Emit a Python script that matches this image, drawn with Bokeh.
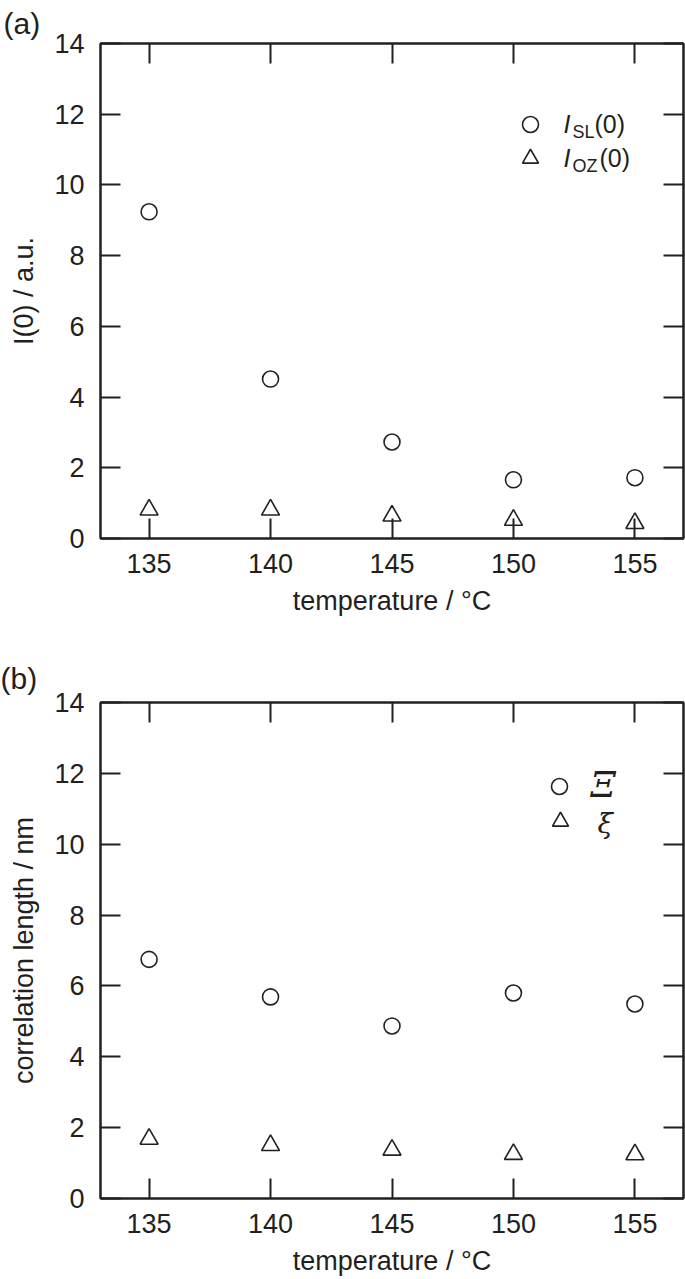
from bokeh.plotting import figure
from bokeh.models import (Range1d, FixedTicker, LinearAxis, Label, Legend,
                          LegendItem, CustomJSTickFormatter, Title)
from bokeh.layouts import column
from bokeh.embed import file_html
from bokeh.resources import INLINE

# ---------------- data ----------------
temperature = [135, 140, 145, 150, 155]
I_SL = [9.24, 4.51, 2.73, 1.66, 1.72]
I_OZ = [0.81, 0.81, 0.64, 0.52, 0.43]
Xi_big = [6.75, 5.69, 4.87, 5.80, 5.49]
xi_small = [1.68, 1.50, 1.37, 1.25, 1.24]

x_ticks = [135, 140, 145, 150, 155]
y_ticks = [0, 2, 4, 6, 8, 10, 12, 14]
x_title = "temperature / °C"
y_title_a = "I(0) / a.u."
y_title_b = "correlation length / nm"

INK = "#231f20"
SANS = "Liberation Sans"
SERIF = "DejaVu Serif"
FS = "27px"


def style_axis(ax, ticks, labels):
    ax.ticker = FixedTicker(ticks=ticks)
    ax.major_tick_in = 20
    ax.major_tick_out = 0
    ax.minor_tick_in = 0
    ax.minor_tick_out = 0
    ax.axis_line_color = INK
    ax.axis_line_width = 2
    ax.major_tick_line_color = INK
    ax.major_tick_line_width = 2
    if labels:
        ax.major_label_text_font = SANS
        ax.major_label_text_font_size = FS
        ax.major_label_text_color = INK
        ax.axis_label_text_font = SANS
        ax.axis_label_text_font_size = FS
        ax.axis_label_text_font_style = "normal"
        ax.axis_label_text_color = INK
    else:
        ax.formatter = CustomJSTickFormatter(code="return ''")
        ax.major_label_text_font_size = "0px"
        ax.major_label_standoff = 0


def make_panel(border_left, border_top, frame_h, border_bottom, border_right,
               tag, tag_standoff, y_title):
    p = figure(frame_width=583, frame_height=frame_h,
               min_border_left=border_left, min_border_top=border_top,
               min_border_bottom=border_bottom, min_border_right=border_right,
               x_range=Range1d(133, 157), y_range=Range1d(0, 14),
               output_backend="svg", toolbar_location=None)
    p.grid.visible = False
    p.background_fill_color = "white"
    p.border_fill_color = "white"
    p.outline_line_color = INK
    p.outline_line_width = 2
    style_axis(p.xaxis[0], x_ticks, True)
    style_axis(p.yaxis[0], y_ticks, True)
    p.xaxis[0].major_label_standoff = 15
    p.xaxis[0].axis_label = x_title
    p.xaxis[0].axis_label_standoff = 10
    p.yaxis[0].major_label_standoff = 16
    p.yaxis[0].axis_label = y_title
    p.yaxis[0].axis_label_standoff = 12
    top = LinearAxis()
    style_axis(top, x_ticks, False)
    p.add_layout(top, "above")
    right = LinearAxis()
    style_axis(right, y_ticks, False)
    p.add_layout(right, "right")
    p.add_layout(Title(text=tag, align="left", offset=-border_left,
                       standoff=tag_standoff, text_font=SANS,
                       text_font_size="30px", text_font_style="normal",
                       text_color=INK), "above")
    return p


def add_text(p, text, x, y, size=FS, style="normal", font=SANS):
    p.add_layout(Label(x=x, y=y, x_units="screen", y_units="screen",
                       text=text, text_font=font, text_font_size=size,
                       text_font_style=style, text_color=INK,
                       text_align="left", text_baseline="alphabetic"))


def add_legend(p, renderer, cx, cy):
    leg = Legend(items=[LegendItem(label=" ", renderers=[renderer])],
                 location=(cx - 20, cy - 20), padding=0, margin=0, spacing=0,
                 glyph_width=40, glyph_height=40, label_height=40,
                 label_width=1, label_standoff=0,
                 border_line_color=None, background_fill_alpha=0)
    p.add_layout(leg, "center")


# ---------------- panel (a) ----------------
pa = make_panel(97, 42, 495, 113, 5, "(a)", 8, y_title_a)
ra1 = pa.scatter(temperature, I_SL, marker="circle", size=16,
                 fill_color=None, line_color=INK, line_width=1.6)
ra2 = pa.scatter(temperature, I_OZ, marker="triangle", size=18,
                 fill_color=None, line_color=INK, line_width=1.6)
add_legend(pa, ra1, 430, 414)
add_legend(pa, ra2, 430, 380)
add_text(pa, "I", 463, 415, size="25px", style="italic")
add_text(pa, "SL", 472, 407, size="18px")
add_text(pa, "(0)", 494, 415, size="25px")
add_text(pa, "I", 463, 381, size="25px", style="italic")
add_text(pa, "OZ", 472, 373, size="18px")
add_text(pa, "(0)", 499, 381, size="25px")

# ---------------- panel (b) ----------------
pb = make_panel(100, 51, 496, 82, 2, "(b)", 16, y_title_b)
rb1 = pb.scatter(temperature, Xi_big, marker="circle", size=16,
                 fill_color=None, line_color=INK, line_width=1.6)
rb2 = pb.scatter(temperature, xi_small, marker="triangle", size=18,
                 fill_color=None, line_color=INK, line_width=1.6)
add_legend(pb, rb1, 459, 412)
add_legend(pb, rb2, 460, 377)
add_text(pb, "Ξ", 490, 414, size="36px", style="italic", font=SERIF)
add_text(pb, "ξ", 497, 375, size="28px", style="italic", font=SERIF)

layout = column(pa, pb)
open("out.html", "w").write(file_html(layout, INLINE))
